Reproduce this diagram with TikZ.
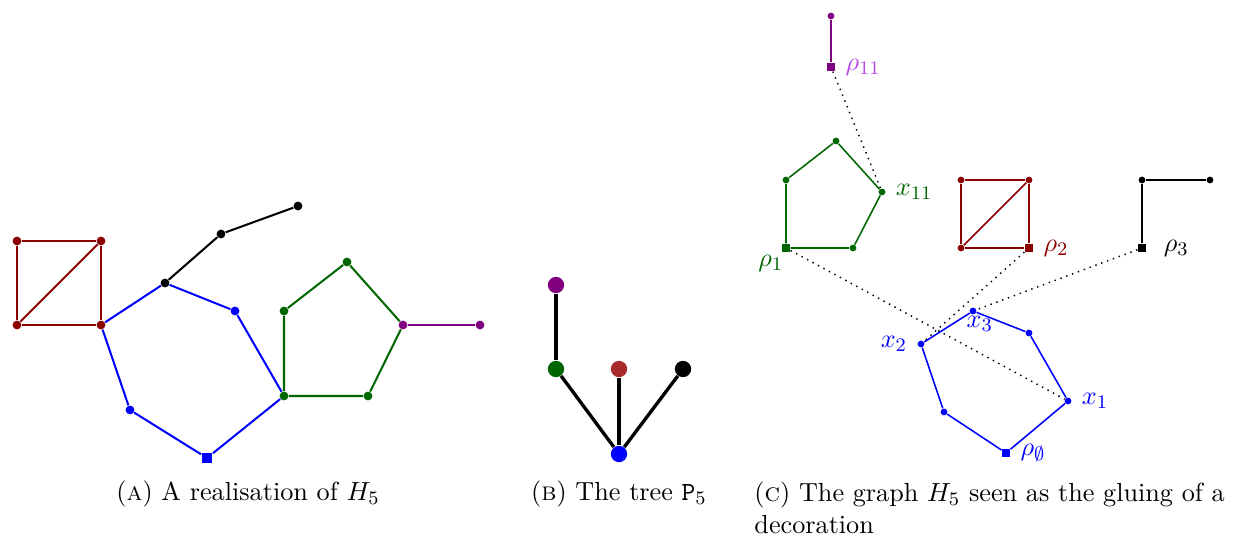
\documentclass[tikz,border=0pt,11pt]{standalone}
\usepackage{tikz}
\usepackage{amssymb}
\usetikzlibrary{positioning}
\definecolor{colRojo}{rgb}{0.55,0,0}
\definecolor{colVerde}{rgb}{0,0.4,0}
\definecolor{colVioleta}{rgb}{0.5,0,0.5}
\definecolor{colVioletaClaro}{HTML}{B845E6}
\definecolor{colLadrillo}{HTML}{A82A2A}

\begin{document}
\begin{tikzpicture}[
        x=0.0147cm, y=-0.0147cm,
        v/.style={circle, fill, inner sep=0pt, minimum size=0.13cm},
        raiz/.style={rectangle, fill, inner sep=0pt, minimum size=0.16cm},
        vc/.style={circle, fill, inner sep=0pt, minimum size=0.1cm},
        rc/.style={rectangle, fill, inner sep=0pt, minimum size=0.12cm},
        vt/.style={circle, fill, inner sep=0pt, minimum size=0.24cm},
        ea/.style={line width=0.85pt},
        ec/.style={line width=0.65pt},
        et/.style={line width=1.4pt},
        gl/.style={dotted, line width=0.6pt},
        lab/.style={inner sep=1pt}
    ]
        \useasboundingbox (0,0) rectangle (1233,538);
        % (a) realisation
        \node[v, colRojo] (r1) at (17,241) {};
        \node[v, colRojo] (r2) at (101,241) {};
        \node[v, colRojo] (r3) at (17,325) {};
        \node[v, colRojo] (r4) at (101,325) {};
        \node[v, black] (n1) at (165,283) {};
        \node[v, black] (n2) at (221,234) {};
        \node[v, black] (n3) at (298,206) {};
        \node[v, blue] (b1) at (235,311) {};
        \node[v, blue] (b2) at (130,410) {};
        \node[raiz, blue] (b0) at (207,458) {};
        \node[v, colVerde] (g1) at (284,396) {};
        \node[v, colVerde] (g2) at (284,311) {};
        \node[v, colVerde] (g3) at (347,262) {};
        \node[v, colVerde] (g4) at (368,396) {};
        \node[v, colVioleta] (p1) at (403,325) {};
        \node[v, colVioleta] (p2) at (480,325) {};
        \draw[ea, colRojo] (r1) -- (r2) -- (r4) -- (r3) -- (r1); \draw[ea, colRojo] (r3) -- (r2);
        \draw[ea, blue] (r4) -- (n1) -- (b1) -- (g1) -- (b0) -- (b2) -- (r4);
        \draw[ea, black] (n1) -- (n2) -- (n3);
        \draw[ea, colVerde] (g1) -- (g2) -- (g3) -- (p1) -- (g4) -- (g1);
        \draw[ea, colVioleta] (p1) -- (p2);
        \node (capA) at (248,494) {(\textsc{a}) A realisation of $H_5$};

        % (b) tree
        \node[vt, blue] (t0) at (619,454) {};
        \node[vt, colVerde] (tg) at (556,369) {};
        \node[vt, colLadrillo] (tr) at (619,369) {};
        \node[vt, black] (tn) at (683,369) {};
        \node[vt, colVioleta] (tp) at (556,285) {};
        \draw[et] (t0) -- (tg); \draw[et] (t0) -- (tr); \draw[et] (t0) -- (tn); \draw[et] (tg) -- (tp);
        \node (capB) at (619,494) {(\textsc{b}) The tree $\mathtt{P}_5$};

        % (c) decoration
        \node[vc, colVioleta] (cp2) at (831,16) {};
        \node[rc, colVioleta] (cp1) at (831,67) {};
        \node[rc, colVerde] (cg0) at (786,248) {};
        \node[vc, colVerde] (cg1) at (853,248) {};
        \node[vc, colVerde] (cg2) at (882,192) {};
        \node[vc, colVerde] (cg3) at (836,141) {};
        \node[vc, colVerde] (cg4) at (786,180) {};
        \node[vc, colRojo] (cr1) at (961,180) {};
        \node[vc, colRojo] (cr2) at (1029,180) {};
        \node[vc, colRojo] (cr3) at (961,248) {};
        \node[rc, colRojo] (cr0) at (1029,248) {};
        \node[rc, black] (cn0) at (1142,248) {};
        \node[vc, black] (cn1) at (1142,180) {};
        \node[vc, black] (cn2) at (1210,180) {};
        \node[rc, blue] (cb0) at (1006,453) {};
        \node[vc, blue] (cb1) at (1068,401) {};
        \node[vc, blue] (cb2) at (1029,333) {};
        \node[vc, blue] (cb3) at (973,311) {};
        \node[vc, blue] (cb4) at (921,344) {};
        \node[vc, blue] (cb5) at (944,412) {};
        \draw[ec, colVioleta] (cp1) -- (cp2);
        \draw[ec, colVerde] (cg0) -- (cg1) -- (cg2) -- (cg3) -- (cg4) -- (cg0);
        \draw[ec, colRojo] (cr1) -- (cr2) -- (cr0) -- (cr3) -- (cr1); \draw[ec, colRojo] (cr3) -- (cr2);
        \draw[ec, black] (cn0) -- (cn1) -- (cn2);
        \draw[ec, blue] (cb0) -- (cb1) -- (cb2) -- (cb3) -- (cb4) -- (cb5) -- (cb0);
        \draw[gl] (cp1) -- (cg2); \draw[gl] (cg0) -- (cb1);
        \draw[gl] (cr0) -- (cb4); \draw[gl] (cn0) -- (cb3);
        \node[lab, right=3pt of cp1, colVioletaClaro] (lp1) {$\rho_{11}$};
        \node[lab, right=3pt of cg2, colVerde] (lg2) {$x_{11}$};
        \node[lab, below left=0pt and -2pt of cg0, colVerde] (lg0) {$\rho_1$};
        \node[lab, right=3pt of cr0, colRojo] (lr0) {$\rho_2$};
        \node[lab, right=6pt of cn0, black] (ln0) {$\rho_3$};
        \node[lab, right=3pt of cb1, blue] (lb1) {$x_1$};
        \node[lab, below right=0pt and -5pt of cb3, blue] (lb3) {$x_3$};
        \node[lab, left=3pt of cb4, blue] (lb4) {$x_2$};
        \node[lab, right=3pt of cb0, blue] (lb0) {$\rho_\emptyset$};
        \node[anchor=north west, text width=7.1cm, align=left, inner sep=0pt] (capC) at (754,481)
            {\hyphenpenalty=10000 (\textsc{c}) The graph $H_5$ seen as the gluing of a decoration};
    \end{tikzpicture}
\end{document}
